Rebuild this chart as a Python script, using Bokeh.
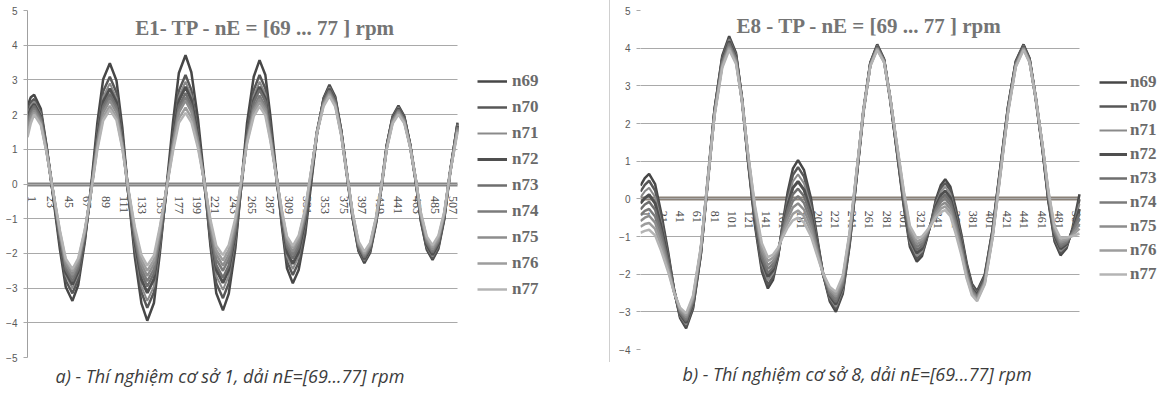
import math
from bokeh.plotting import figure
from bokeh.models import Range1d, FixedTicker, Legend, LegendItem, Label, Div, Title
from bokeh.layouts import row
from bokeh.embed import file_html
from bokeh.resources import INLINE

series_names = ["n69", "n70", "n71", "n72", "n73", "n74", "n75", "n76", "n77"]

# ---------------- chart a : E1 ----------------
xa = [1, 5, 9, 17, 24, 32, 40, 47, 55, 62, 70, 78, 85, 92, 100, 108, 115, 122, 130, 138,
      145, 153, 160, 168, 176, 183, 191, 198, 206, 214, 221, 228, 236, 243, 251, 258, 265, 273,
      280, 287, 293, 300, 307, 313, 320, 327, 335, 342, 349, 357, 364, 371, 378, 385, 392, 399,
      406, 413, 420, 427, 433, 440, 447, 454, 461, 468, 474, 481, 488, 495, 502, 509, 518]

a_n69 = [2.25, 2.5,
         2.57, 2.17, 1.09, -0.40, -1.89, -2.97,
         -3.37, -2.91, -1.66, 0.06, 1.77, 3.02,
         3.48, 2.98, 1.63, -0.23, -2.09, -3.44,
         -3.94, -3.43, -2.03, -0.12, 1.80, 3.20,
         3.71, 3.22, 1.87, 0.04, -1.80, -3.15,
         -3.64, -3.16, -1.84, -0.04, 1.77, 3.09,
         3.57, 3.14, 1.96, 0.36, -1.25, -2.43,
         -2.86, -2.48, -1.43, 0.0, 1.43, 2.48,
         2.86, 2.52, 1.58, 0.29, -1.0, -1.94,
         -2.28, -1.98, -1.15, -0.01, 1.13, 1.96,
         2.26, 1.96, 1.15, 0.04, -1.08, -1.89,
         -2.19, -1.87, -1.03, 0.32,
         1.77]
a_n70 = [2.1, 2.35,
         2.45, 2.08, 1.05, -0.35, -1.75, -2.78,
         -3.15, -2.73, -1.59, -0.03, 1.53, 2.67,
         3.09, 2.64, 1.43, -0.24, -1.91, -3.12,
         -3.57, -3.12, -1.89, -0.22, 1.46, 2.69,
         3.14, 2.71, 1.53, -0.08, -1.68, -2.86,
         -3.29, -2.86, -1.68, -0.08, 1.53, 2.71,
         3.14, 2.75, 1.70, 0.26, -1.18, -2.23,
         -2.62, -2.26, -1.26, 0.1, 1.46, 2.46,
         2.82, 2.48, 1.56, 0.29, -0.98, -1.90,
         -2.24, -1.94, -1.12, 0.0, 1.11, 1.93,
         2.23, 1.94, 1.14, 0.05, -1.05, -1.85,
         -2.14, -1.82, -1.0, 0.32,
         1.74]
a_n71 = [2.0, 2.27,
         2.38, 2.02, 1.04, -0.31, -1.66, -2.64,
         -3.0, -2.61, -1.53, -0.05, 1.43, 2.51,
         2.9, 2.48, 1.33, -0.24, -1.80, -2.95,
         -3.37, -2.95, -1.79, -0.21, 1.37, 2.53,
         2.95, 2.55, 1.45, -0.05, -1.55, -2.65,
         -3.05, -2.65, -1.55, -0.05, 1.45, 2.55,
         2.95, 2.59, 1.6, 0.25, -1.1, -2.09,
         -2.45, -2.1, -1.14, 0.17, 1.47, 2.43,
         2.78, 2.45, 1.54, 0.29, -0.96, -1.87,
         -2.2, -1.91, -1.1, 0.0, 1.1, 1.91,
         2.2, 1.91, 1.13, 0.06, -1.02, -1.80,
         -2.09, -1.78, -0.98, 0.32,
         1.71]
a_n72 = [1.9, 2.18,
         2.3, 1.95, 1.0, -0.3, -1.6, -2.55,
         -2.9, -2.52, -1.49, -0.08, 1.34, 2.37,
         2.75, 2.36, 1.28, -0.2, -1.67, -2.75,
         -3.14, -2.74, -1.66, -0.17, 1.32, 2.40,
         2.8, 2.42, 1.39, -0.03, -1.44, -2.47,
         -2.85, -2.47, -1.44, -0.03, 1.39, 2.42,
         2.8, 2.46, 1.53, 0.25, -1.03, -1.96,
         -2.3, -1.96, -1.04, 0.22, 1.48, 2.40,
         2.74, 2.41, 1.52, 0.29, -0.94, -1.83,
         -2.16, -1.87, -1.08, 0.0, 1.09, 1.88,
         2.17, 1.89, 1.12, 0.07, -0.99, -1.76,
         -2.04, -1.74, -0.95, 0.32,
         1.68]
a_n73 = [1.8, 2.1,
         2.25, 1.91, 0.99, -0.28, -1.54, -2.46,
         -2.8, -2.44, -1.45, -0.1, 1.25, 2.24,
         2.6, 2.23, 1.21, -0.18, -1.56, -2.58,
         -2.95, -2.58, -1.56, -0.17, 1.23, 2.25,
         2.62, 2.26, 1.29, -0.04, -1.37, -2.34,
         -2.7, -2.34, -1.35, 0.01, 1.36, 2.35,
         2.71, 2.38, 1.5, 0.28, -0.94, -1.82,
         -2.15, -1.83, -0.94, 0.28, 1.49, 2.38,
         2.7, 2.38, 1.5, 0.29, -0.92, -1.80,
         -2.12, -1.83, -1.06, 0.01, 1.08, 1.85,
         2.14, 1.86, 1.11, 0.08, -0.95, -1.70,
         -1.98, -1.68, -0.92, 0.32,
         1.65]
a_n74 = [1.7, 2.02,
         2.18, 1.85, 0.96, -0.26, -1.48, -2.37,
         -2.7, -2.35, -1.4, -0.1, 1.2, 2.15,
         2.5, 2.15, 1.18, -0.15, -1.48, -2.45,
         -2.8, -2.45, -1.48, -0.15, 1.18, 2.15,
         2.5, 2.17, 1.25, 0.0, -1.25, -2.17,
         -2.5, -2.16, -1.24, 0.03, 1.29, 2.21,
         2.55, 2.24, 1.4, 0.25, -0.9, -1.74,
         -2.05, -1.73, -0.87, 0.31, 1.48, 2.34,
         2.66, 2.34, 1.48, 0.29, -0.9, -1.76,
         -2.08, -1.80, -1.03, 0.01, 1.06, 1.83,
         2.11, 1.84, 1.10, 0.09, -0.92, -1.66,
         -1.93, -1.64, -0.89, 0.32,
         1.62]
a_n75 = [1.6, 1.94,
         2.12, 1.80, 0.94, -0.25, -1.44, -2.30,
         -2.62, -2.28, -1.37, -0.11, 1.15, 2.06,
         2.4, 2.06, 1.14, -0.13, -1.39, -2.31,
         -2.65, -2.31, -1.39, -0.13, 1.14, 2.06,
         2.4, 2.08, 1.21, 0.03, -1.16, -2.03,
         -2.35, -2.03, -1.15, 0.05, 1.25, 2.13,
         2.45, 2.16, 1.35, 0.25, -0.85, -1.66,
         -1.95, -1.64, -0.81, 0.34, 1.48, 2.31,
         2.62, 2.31, 1.46, 0.29, -0.88, -1.73,
         -2.04, -1.76, -1.01, 0.02, 1.05, 1.80,
         2.08, 1.81, 1.09, 0.10, -0.89, -1.61,
         -1.88, -1.60, -0.87, 0.31,
         1.58]
a_n76 = [1.45, 1.83,
         2.05, 1.74, 0.91, -0.24, -1.38, -2.21,
         -2.52, -2.2, -1.33, -0.14, 1.06, 1.93,
         2.25, 1.93, 1.06, -0.13, -1.31, -2.18,
         -2.5, -2.19, -1.33, -0.15, 1.03, 1.89,
         2.2, 1.91, 1.1, 0.0, -1.1, -1.91,
         -2.2, -1.90, -1.06, 0.08, 1.21, 2.05,
         2.35, 2.07, 1.3, 0.25, -0.8, -1.57,
         -1.85, -1.55, -0.74, 0.37, 1.47, 2.28,
         2.58, 2.27, 1.44, 0.29, -0.86, -1.69,
         -2.0, -1.73, -0.99, 0.02, 1.03, 1.77,
         2.04, 1.78, 1.08, 0.11, -0.86, -1.56,
         -1.82, -1.54, -0.84, 0.31,
         1.54]
a_n77 = [1.35, 1.75,
         2.0, 1.70, 0.89, -0.23, -1.34, -2.15,
         -2.45, -2.14, -1.30, -0.16, 0.99, 1.83,
         2.14, 1.84, 1.02, -0.11, -1.23, -2.05,
         -2.35, -2.06, -1.25, -0.15, 0.95, 1.76,
         2.05, 1.78, 1.03, 0.0, -1.03, -1.78,
         -2.05, -1.76, -0.98, 0.10, 1.17, 1.95,
         2.24, 1.97, 1.24, 0.23, -0.78, -1.51,
         -1.78, -1.49, -0.70, 0.38, 1.45, 2.24,
         2.53, 2.23, 1.41, 0.29, -0.83, -1.65,
         -1.95, -1.69, -0.96, 0.03, 1.01, 1.74,
         2.0, 1.75, 1.06, 0.12, -0.82, -1.51,
         -1.76, -1.49, -0.81, 0.30,
         1.49]

xa_ticks = [1, 23, 45, 67, 89, 111, 133, 155, 177, 199, 221, 243, 265, 287, 309, 331,
            353, 375, 397, 419, 441, 463, 485, 507]
ya_ticks = [-5, -4, -3, -2, -1, 0, 1, 2, 3, 4, 5]

# ---------------- chart b : E8 ----------------
xb = [1, 6, 11, 18, 25, 33, 40, 47, 54, 62, 71, 79, 87, 96, 104, 112, 119, 126, 134, 142,
      149, 155, 161, 166, 172, 178, 184, 191, 199, 206, 213, 221, 228, 236, 244, 252, 260, 268,
      276, 284, 291, 299, 307, 314, 322, 328, 333, 339, 344, 350, 355, 361, 367, 374, 380, 386,
      392, 401, 410, 419, 428, 437, 446, 453, 460, 468, 475, 482, 489, 496, 503, 511]

b_n69 = [0.35, 0.55,
         0.66, 0.39, -0.37, -1.39, -2.42, -3.17,
         -3.44, -2.92, -1.5, 0.44, 2.38, 3.80,
         4.32, 3.87, 2.65, 0.97, -0.71, -1.93,
         -2.38, -2.15, -1.53, -0.68, 0.18, 0.80,
         1.03, 0.76, 0.02, -0.99, -1.99, -2.73,
         -3.0, -2.52, -1.23, 0.55, 2.33, 3.62,
         4.1, 3.71, 2.66, 1.22, -0.23, -1.28,
         -1.67, -1.52, -1.12, -0.58, -0.03, 0.37,
         0.52, 0.32, -0.22, -0.97, -1.71, -2.25,
         -2.45, -2.01, -0.81, 0.83, 2.46, 3.66,
         4.1, 3.73, 2.7, 1.3, -0.1, -1.13,
         -1.5, -1.31, -0.77,
         0.12]
b_n70 = [0.19, 0.37,
         0.48, 0.22, -0.49, -1.46, -2.42, -3.13,
         -3.39, -2.88, -1.48, 0.44, 2.36, 3.76,
         4.27, 3.83, 2.63, 1.0, -0.64, -1.84,
         -2.28, -2.07, -1.5, -0.72, 0.06, 0.63,
         0.84, 0.59, -0.10, -1.05, -1.99, -2.68,
         -2.93, -2.46, -1.18, 0.58, 2.33, 3.61,
         4.08, 3.70, 2.66, 1.25, -0.17, -1.21,
         -1.59, -1.46, -1.09, -0.59, -0.08, 0.29,
         0.42, 0.23, -0.31, -1.03, -1.76, -2.29,
         -2.48, -2.04, -0.84, 0.80, 2.44, 3.64,
         4.08, 3.71, 2.70, 1.32, -0.06, -1.07,
         -1.44, -1.27, -0.80,
         -0.01]
b_n71 = [0.04, 0.2,
         0.29, 0.05, -0.62, -1.53, -2.43, -3.10,
         -3.34, -2.83, -1.45, 0.45, 2.34, 3.72,
         4.23, 3.80, 2.63, 1.03, -0.57, -1.74,
         -2.17, -1.98, -1.47, -0.76, -0.06, 0.46,
         0.65, 0.41, -0.23, -1.11, -1.99, -2.63,
         -2.87, -2.41, -1.14, 0.60, 2.33, 3.60,
         4.06, 3.69, 2.67, 1.27, -0.13, -1.15,
         -1.52, -1.40, -1.06, -0.6, -0.14, 0.20,
         0.32, 0.13, -0.39, -1.1, -1.81, -2.33,
         -2.52, -2.08, -0.88, 0.77, 2.42, 3.62,
         4.06, 3.70, 2.70, 1.34, -0.03, -1.02,
         -1.39, -1.24, -0.83,
         -0.14]
b_n72 = [-0.12, 0.02,
         0.11, -0.12, -0.74, -1.59, -2.44, -3.06,
         -3.29, -2.79, -1.42, 0.45, 2.31, 3.68,
         4.18, 3.76, 2.62, 1.06, -0.51, -1.65,
         -2.07, -1.90, -1.44, -0.81, -0.17, 0.29,
         0.46, 0.24, -0.36, -1.17, -1.99, -2.58,
         -2.8, -2.34, -1.09, 0.62, 2.33, 3.58,
         4.04, 3.67, 2.67, 1.30, -0.07, -1.07,
         -1.44, -1.33, -1.03, -0.62, -0.20, 0.10,
         0.21, 0.03, -0.48, -1.17, -1.86, -2.37,
         -2.55, -2.11, -0.90, 0.75, 2.39, 3.60,
         4.04, 3.68, 2.70, 1.36, 0.01, -0.97,
         -1.33, -1.20, -0.85,
         -0.27]
b_n73 = [-0.28, -0.15,
         -0.08, -0.29, -0.87, -1.66, -2.45, -3.03,
         -3.24, -2.75, -1.40, 0.45, 2.30, 3.65,
         4.14, 3.73, 2.61, 1.09, -0.44, -1.56,
         -1.97, -1.82, -1.41, -0.85, -0.29, 0.12,
         0.27, 0.07, -0.48, -1.24, -1.99, -2.54,
         -2.74, -2.29, -1.05, 0.65, 2.34, 3.58,
         4.03, 3.67, 2.68, 1.34, -0.01, -1.0,
         -1.36, -1.26, -0.99, -0.63, -0.26, 0.01,
         0.11, -0.07, -0.57, -1.24, -1.92, -2.41,
         -2.59, -2.15, -0.94, 0.72, 2.38, 3.59,
         4.03, 3.67, 2.70, 1.38, 0.05, -0.92,
         -1.28, -1.17, -0.88,
         -0.4]
b_n74 = [-0.43, -0.32,
         -0.27, -0.47, -1.0, -1.73, -2.46, -2.99,
         -3.19, -2.70, -1.37, 0.45, 2.27, 3.60,
         4.09, 3.69, 2.60, 1.12, -0.37, -1.46,
         -1.86, -1.73, -1.38, -0.9, -0.41, -0.06,
         0.07, -0.11, -0.62, -1.3, -1.99, -2.49,
         -2.67, -2.22, -1.0, 0.67, 2.34, 3.56,
         4.01, 3.66, 2.69, 1.37, 0.04, -0.93,
         -1.28, -1.19, -0.96, -0.64, -0.31, -0.08,
         0.01, -0.17, -0.65, -1.31, -1.96, -2.44,
         -2.62, -2.18, -0.96, 0.70, 2.35, 3.57,
         4.01, 3.66, 2.70, 1.40, 0.09, -0.87,
         -1.22, -1.14, -0.91,
         -0.53]
b_n75 = [-0.59, -0.5,
         -0.45, -0.63, -1.12, -1.80, -2.47, -2.96,
         -3.14, -2.66, -1.35, 0.45, 2.25, 3.56,
         4.04, 3.65, 2.59, 1.14, -0.31, -1.37,
         -1.76, -1.65, -1.35, -0.94, -0.53, -0.23,
         -0.12, -0.29, -0.74, -1.36, -1.98, -2.43,
         -2.6, -2.16, -0.95, 0.70, 2.34, 3.55,
         3.99, 3.64, 2.69, 1.40, 0.10, -0.85,
         -1.2, -1.13, -0.93, -0.65, -0.38, -0.17,
         -0.1, -0.27, -0.74, -1.38, -2.01, -2.48,
         -2.65, -2.21, -0.99, 0.67, 2.33, 3.55,
         3.99, 3.65, 2.70, 1.42, 0.13, -0.82,
         -1.16, -1.10, -0.94,
         -0.66]
b_n76 = [-0.74, -0.67,
         -0.64, -0.80, -1.25, -1.87, -2.48, -2.93,
         -3.09, -2.62, -1.32, 0.46, 2.23, 3.53,
         4.0, 3.62, 2.59, 1.18, -0.24, -1.27,
         -1.65, -1.56, -1.32, -0.98, -0.65, -0.40,
         -0.31, -0.46, -0.87, -1.43, -1.98, -2.39,
         -2.54, -2.10, -0.91, 0.72, 2.34, 3.53,
         3.97, 3.63, 2.70, 1.42, 0.15, -0.79,
         -1.13, -1.07, -0.90, -0.67, -0.43, -0.26,
         -0.2, -0.37, -0.82, -1.45, -2.07, -2.52,
         -2.69, -2.24, -1.03, 0.64, 2.31, 3.52,
         3.97, 3.63, 2.70, 1.43, 0.16, -0.77,
         -1.11, -1.07, -0.97,
         -0.79]
b_n77 = [-0.9, -0.85,
         -0.82, -0.97, -1.38, -1.93, -2.49, -2.89,
         -3.04, -2.57, -1.29, 0.46, 2.20, 3.48,
         3.95, 3.58, 2.58, 1.2, -0.18, -1.18,
         -1.55, -1.48, -1.29, -1.03, -0.76, -0.57,
         -0.5, -0.63, -0.99, -1.49, -1.98, -2.34,
         -2.47, -2.04, -0.87, 0.74, 2.35, 3.52,
         3.95, 3.62, 2.70, 1.45, 0.20, -0.72,
         -1.05, -1.0, -0.86, -0.68, -0.49, -0.35,
         -0.3, -0.46, -0.91, -1.51, -2.12, -2.56,
         -2.72, -2.27, -1.05, 0.62, 2.28, 3.50,
         3.95, 3.62, 2.70, 1.45, 0.2, -0.72,
         -1.05, -1.03, -0.99,
         -0.92]

xb_ticks = [1, 21, 41, 61, 81, 101, 121, 141, 161, 181, 201, 221, 241, 261, 281, 301,
            321, 341, 361, 381, 401, 421, 441, 461, 481, 501]
yb_ticks = [-4, -3, -2, -1, 0, 1, 2, 3, 4, 5]

title_a = "E1- TP - nE = [69 ... 77 ] rpm"
title_b = "E8 - TP - nE = [69 ... 77 ] rpm"
caption_a = "a) - Thí nghiệm cơ sở 1, dải nE=[69...77] rpm"
caption_b = "b) - Thí nghiệm cơ sở 8, dải nE=[69...77] rpm"

line_colors = ["#474747", "#575757", "#8a8a8a", "#4f4f4f", "#6e6e6e",
               "#7b7b7b", "#8d8d8d", "#9d9d9d", "#b4b4b4"]
line_widths = [2.5, 2.5, 2.0, 3.0, 2.5, 2.5, 2.5, 2.5, 2.5]

LABEL_SHIFT = 6  # the source draws its rotated category labels a little right of each point


def build(x, ys, xlast, xview_end, yticks, xticks, title, title_x, title_y,
          caption, cap_offset, cap_standoff,
          left, frame_w, right, top, frame_h, bottom,
          leg_loc, leg_spacing, glyph_w, leg_standoff, zero_color, yaxis_line):
    # the frame also holds the legend column on the right; grid and zero line stop at the data
    p = figure(frame_width=frame_w, frame_height=frame_h,
               x_range=Range1d(1, xview_end), y_range=Range1d(yticks[0], yticks[-1]),
               output_backend="svg", toolbar_location=None,
               min_border_left=left, min_border_right=right,
               min_border_top=top, min_border_bottom=bottom)
    p.outline_line_color = None
    p.background_fill_color = "white"
    p.border_fill_color = "white"
    p.xgrid.visible = False
    grid = p.ygrid[0]
    grid.ticker = FixedTicker(ticks=yticks)
    grid.grid_line_color = "#a9a9a9"
    grid.grid_line_width = 1
    if "cross_bounds" in type(grid).properties():
        grid.cross_bounds = (1, xlast)

    ya = p.yaxis[0]
    ya.ticker = FixedTicker(ticks=yticks)
    ya.axis_line_color = yaxis_line
    ya.major_tick_out = 4
    ya.major_tick_in = 0
    ya.major_tick_line_color = "#a9a9a9"
    ya.minor_tick_line_color = None
    ya.major_label_standoff = 6
    ya.major_label_text_font = "Liberation Sans"
    ya.major_label_text_font_size = "10px"
    ya.major_label_text_color = "#595959"

    xa_ = p.xaxis[0]
    xa_.fixed_location = 0
    xa_.bounds = (1, xlast)
    xa_.level = "underlay"
    shifted = [t + LABEL_SHIFT for t in xticks]
    xa_.ticker = FixedTicker(ticks=shifted)
    xa_.major_label_overrides = {s: str(t) for s, t in zip(shifted, xticks)}
    xa_.axis_line_width = 4
    xa_.axis_line_color = zero_color
    xa_.major_tick_line_color = None
    xa_.minor_tick_line_color = None
    xa_.major_label_orientation = -math.pi / 2
    xa_.major_label_standoff = 6
    xa_.major_label_text_font = "Liberation Serif"
    xa_.major_label_text_font_size = "12px"
    xa_.major_label_text_color = "#4a4a4a"

    items = []
    for name, yv, c, w in zip(series_names, ys, line_colors, line_widths):
        r = p.line(x, yv, line_color=c, line_width=w)
        items.append(LegendItem(label=name, renderers=[r]))

    legend = Legend(items=items, location=leg_loc, orientation="vertical")
    legend.padding = 0
    legend.margin = 0
    legend.spacing = leg_spacing
    legend.glyph_width = glyph_w
    legend.glyph_height = 20
    legend.label_height = 20
    legend.label_standoff = leg_standoff
    legend.border_line_color = None
    legend.background_fill_alpha = 0
    legend.label_text_font = "Liberation Serif"
    legend.label_text_font_style = "bold"
    legend.label_text_font_size = "17px"
    legend.label_text_color = "#6a6a6a"
    p.add_layout(legend)

    p.add_layout(Label(x=title_x, y=title_y, text=title, text_align="center",
                       text_baseline="middle", text_font="Liberation Serif",
                       text_font_style="bold", text_font_size="21px",
                       text_color="#747474"))
    cap = Title(text=caption, align="left", offset=cap_offset, standoff=cap_standoff,
                text_font="Open Sans", text_font_style="italic", text_font_size="18px",
                text_color="#3c3c3c")
    p.add_layout(cap, "below")
    return p


# chart a: 430 px for the 517 steps of the data, legend column to the right of it
pa = build(xa, [a_n69, a_n70, a_n71, a_n72, a_n73, a_n74, a_n75, a_n76, a_n77],
           518, 1 + 579 * 517 / 430, ya_ticks, xa_ticks, title_a, 287, 4.5,
           caption_a, 28, 8,
           27, 579, 3, 8, 347, 42, (450, 58), 6, 30, 5, "#858585", "#a0a0a0")

# chart b: 439 px for the 510 steps of the data
pb = build(xb, [b_n69, b_n70, b_n71, b_n72, b_n73, b_n74, b_n75, b_n76, b_n77],
           511, 1 + 527 * 510 / 439, yb_ticks, xb_ticks, title_b, 267, 4.59,
           caption_b, 42, 20,
           30, 527, 2, 10, 339, 48, (459, 65), 4, 28, 3, "#8a8178", None)

sep = Div(text="", width=1, height=362, margin=0, styles={"background-color": "#cfcfcf"})

layout = row(pa, sep, pb)

open("out.html", "w").write(file_html(layout, INLINE))
